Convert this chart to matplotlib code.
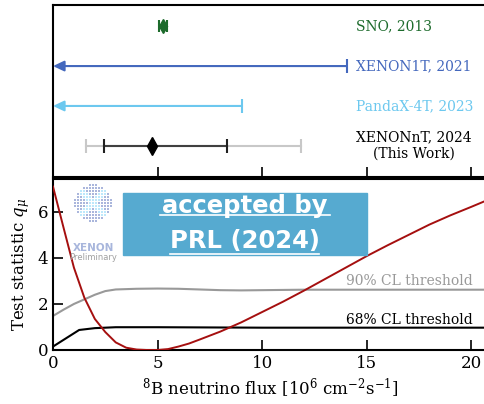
import numpy as np
import matplotlib
matplotlib.use("Agg")
import matplotlib.pyplot as plt
from matplotlib.patches import Rectangle
from matplotlib.lines import Line2D

plt.rcParams.update({"font.family": "DejaVu Serif", "mathtext.fontset": "dejavuserif",
                     "font.size": 12, "axes.linewidth": 1.5})

W, H = 485, 404

# ---- top panel: measurements ----
exp_labels = ["SNO, 2013", "XENON1T, 2021", "PandaX-4T, 2023", "XENONnT, 2024\n(This Work)"]
exp_colors = ["#1d6b2c", "#4468bd", "#6cc8ef", "black"]
sno_val, sno_err = 5.25, 0.2
ul_xenon1t = 14.05
ul_pandax = 9.04
nt_val = 4.72
nt_1sig = (2.44, 8.34)
nt_2sig = (1.58, 11.88)

# ---- bottom panel: test statistic curves ----
flux = [0, 0.5, 1.0, 1.5, 2.0, 2.5, 3.0, 3.5, 4.0, 4.5, 5.0, 5.5, 6.0, 6.5, 7.0, 8.0,
        9.0, 10.0, 11.0, 12.0, 13.0, 14.0, 15.0, 16.0, 17.0, 18.0, 19.0, 20.0, 21.0]
q_mu = [7.1, 5.33, 3.58, 2.27, 1.35, 0.78, 0.33, 0.10, 0.02, 0.0, 0.0, 0.04, 0.15, 0.28,
        0.45, 0.80, 1.20, 1.65, 2.10, 2.58, 3.08, 3.58, 4.08, 4.55, 5.0, 5.45, 5.85, 6.22, 6.6]
thr_x = [0, 0.5, 1.0, 1.5, 2.0, 2.5, 3.0, 4.0, 5.0, 6.0, 7.0, 8.0, 9.0, 10.0, 12.0, 16.0, 21.0]
thr90 = [1.48, 1.75, 2.0, 2.2, 2.4, 2.56, 2.63, 2.66, 2.67, 2.66, 2.63, 2.60, 2.59, 2.60, 2.62, 2.62, 2.62]
thr68_x = [0, 1.25, 2.0, 3.0, 5.0, 10.0, 21.0]
thr68 = [0.15, 0.87, 0.95, 0.99, 0.99, 0.97, 0.97]


def px_axes(l, t, r, b):
    return [l / W, 1 - b / H, (r - l) / W, (b - t) / H]


fig = plt.figure(figsize=(W / 100, H / 100), dpi=100)
ax1 = fig.add_axes(px_axes(53, 5, 488, 177))
ax2 = fig.add_axes(px_axes(53, 179, 488, 350))

XMAX = 20.8
rows = [4, 3, 2, 1]

# SNO
ax1.errorbar(sno_val, rows[0], xerr=sno_err, fmt="d", ms=7, color=exp_colors[0],
             ecolor=exp_colors[0], elinewidth=1.5, capsize=4, capthick=1.5)
# upper limits with arrows
for lim, y, c in [(ul_xenon1t, rows[1], exp_colors[1]), (ul_pandax, rows[2], exp_colors[2])]:
    ax1.annotate("", xy=(0, y), xytext=(lim, y),
                 arrowprops=dict(arrowstyle="-|>,head_length=0.55,head_width=0.26",
                                 color=c, lw=1.5, shrinkA=0, shrinkB=0))
    ax1.plot([lim], [y], marker="|", ms=10, mew=1.5, color=c)
# XENONnT
ax1.plot(list(nt_2sig), [rows[3]] * 2, color="#c8c8c8", lw=1.5)
ax1.plot(list(nt_2sig), [rows[3]] * 2, ls="none", marker="|", ms=10, mew=1.5, color="#c8c8c8")
ax1.plot(list(nt_1sig), [rows[3]] * 2, color="#404040", lw=1.5)
ax1.plot(list(nt_1sig), [rows[3]] * 2, ls="none", marker="|", ms=10, mew=1.5, color="#202020")
ax1.plot([nt_val], [rows[3]], marker="d", ms=9, color="black")

for lab, y, c in zip(exp_labels, rows, exp_colors):
    ax1.text(14.5, y, lab, color=c, fontsize=10, va="center", ha="left", multialignment="center")

ax1.set_xlim(0, XMAX)
ax1.set_ylim(0.22, 4.53)
ax1.set_yticks([])
ax1.set_xticks([0, 5, 10, 15, 20])
ax1.tick_params(axis="x", direction="in", length=7, width=1.2, labelbottom=False)

# bottom panel
ax2.plot(flux, q_mu, color="#a50f0f", lw=1.4, zorder=3)
ax2.plot(thr_x, thr90, color="#999999", lw=1.5)
ax2.plot(thr68_x, thr68, color="black", lw=1.5)
ax2.text(20.05, 3.0, "90% CL threshold", color="#999999", fontsize=10, ha="right", va="center")
ax2.text(20.05, 1.3, "68% CL threshold", color="black", fontsize=10, ha="right", va="center")
ax2.set_xlim(0, XMAX)
ax2.set_ylim(0, 7.43)
ax2.set_xticks([0, 5, 10, 15, 20])
ax2.set_yticks([0, 2, 4, 6])
ax2.tick_params(direction="in", length=7, width=1.2, labelsize=12)
ax2.set_xlabel(r"$^{8}$B neutrino flux [10$^{6}$ cm$^{-2}$s$^{-1}$]", fontsize=12)
ax2.set_ylabel(r"Test statistic $q_\mu$", fontsize=12)

# XENON logo (decoration)
lax = fig.add_axes(px_axes(73, 183, 113, 223))
lax.set_aspect("equal")
lax.axis("off")
g = np.linspace(-1, 1, 13)
gx, gy = np.meshgrid(g, g)
inside = gx ** 2 + gy ** 2 <= 1.05
diag = (np.abs(np.abs(gx) - np.abs(gy)) < 0.2) & inside
lax.scatter(gx[inside & ~diag], gy[inside & ~diag], s=3.2, marker="s", color="#aab6dc", lw=0)
lax.scatter(gx[diag], gy[diag], s=3.2, marker="s", color="#bde8fb", lw=0)
lax.set_xlim(-1.1, 1.1)
lax.set_ylim(-1.1, 1.1)
fig.text(93 / W, 1 - 248 / H, "XENON", family="DejaVu Sans", weight="bold", fontsize=7.5,
         color="#a8b6dc", ha="center", va="center")
fig.text(93 / W, 1 - 257 / H, "Preliminary", family="DejaVu Sans", fontsize=6,
         color="#a0a0a0", ha="center", va="center")

# banner
fig.add_artist(Rectangle((123 / W, 1 - 255 / H), (367 - 123) / W, (255 - 193) / H,
                         transform=fig.transFigure, color="#56aad0", zorder=5))
fig.text(245 / W, 1 - 206 / H, "accepted by", family="DejaVu Sans", weight="bold",
         fontsize=17.5, color="white", ha="center", va="center", zorder=6)
fig.text(245 / W, 1 - 241 / H, "PRL (2024)", family="DejaVu Sans", weight="bold",
         fontsize=17.5, color="white", ha="center", va="center", zorder=6)
fig.add_artist(Line2D([160 / W, 330 / W], [1 - 215 / H] * 2, transform=fig.transFigure,
                      color="white", lw=1.2, zorder=6))
fig.add_artist(Line2D([170 / W, 319 / W], [1 - 254 / H] * 2, transform=fig.transFigure,
                      color="white", lw=1.2, zorder=6))

fig.savefig("out.png", dpi=100)
